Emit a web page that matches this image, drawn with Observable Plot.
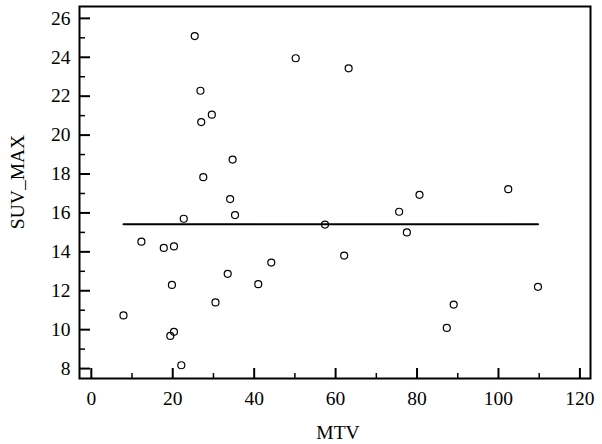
<!DOCTYPE html>
<html>
<head>
<meta charset="utf-8">
<script src="https://cdn.jsdelivr.net/npm/d3@7"></script>
<script src="https://cdn.jsdelivr.net/npm/@observablehq/plot@0.6"></script>
<style>
  html, body { margin: 0; padding: 0; background: white; }
</style>
</head>
<body>
<div id="chart"></div>
<script>
// Data
const mtv    = [7.9, 12.3, 17.8, 20.3, 19.8, 19.4, 20.3, 22.1, 30.5, 33.5, 41.0, 44.2,
                25.4, 50.2, 26.8, 27.0, 29.6, 34.7, 27.5, 34.1, 35.3, 22.7,
                63.2, 80.6, 75.6, 102.4, 57.4,
                77.5, 62.1, 109.7, 89.0, 87.3];
const suvMax = [10.73, 14.52, 14.2, 14.28, 12.3, 9.68, 9.89, 8.17, 11.4, 12.87, 12.34, 13.45,
                25.09, 23.95, 22.28, 20.67, 21.05, 18.74, 17.84, 16.71, 15.89, 15.7,
                23.43, 16.93, 16.06, 17.22, 15.4,
                15.0, 13.81, 12.2, 11.29, 10.09];
const xMajor = [0, 20, 40, 60, 80, 100, 120];
const xMinor = [10, 30, 50, 70, 90, 110];
const yMajor = [8, 10, 12, 14, 16, 18, 20, 22, 24, 26];
const yMinor = [9, 11, 13, 15, 17, 19, 21, 23, 25];
const xLabel = "MTV";
const yLabel = "SUV_MAX";

const points = mtv.map((x, i) => ({x, y: suvMax[i]}));
// fitted (flat) line: mean of SUV_MAX across the range of MTV
const meanY = d3.mean(suvMax);
const fit = [{x: d3.min(mtv), y: meanY}, {x: d3.max(mtv), y: meanY}];

const FONT = "'Liberation Serif', 'Times New Roman', serif";
const W = 602, H = 444, mL = 79, mR = 12, mT = 6, mB = 66;
const xDom = [-2.9, 122.6], yDom = [7.49, 26.61];
// convert inward tick lengths (pixels) into data units
const xPer = (W - mL - mR) / (xDom[1] - xDom[0]);
const yPer = (H - mT - mB) / (yDom[1] - yDom[0]);
const tickX = (len) => ({y1: yDom[0], y2: yDom[0] + len / yPer});
const tickY = (len) => ({x1: xDom[0], x2: xDom[0] + len / xPer});

const chart = Plot.plot({
  width: W,
  height: H,
  marginLeft: mL,
  marginRight: mR,
  marginTop: mT,
  marginBottom: mB,
  style: {fontFamily: FONT, fontSize: "19.5px", background: "white", color: "black"},
  x: {domain: xDom},
  y: {domain: yDom},
  marks: [
    Plot.axisX({ticks: xMajor, tickSize: 0, tickPadding: 13, label: null, fontSize: 19.5, fontFamily: FONT}),
    Plot.axisY({ticks: yMajor, tickSize: 0, tickPadding: 9, label: null, fontSize: 19.5, fontFamily: FONT}),
    Plot.ruleX(xMajor, {x: d => d, ...tickX(10), stroke: "black", strokeWidth: 2}),
    Plot.ruleX(xMinor, {x: d => d, ...tickX(5), stroke: "black", strokeWidth: 1.5}),
    Plot.ruleY(yMajor, {y: d => d, ...tickY(11), stroke: "black", strokeWidth: 2}),
    Plot.ruleY(yMinor, {y: d => d, ...tickY(6), stroke: "black", strokeWidth: 1.5}),
    Plot.line(fit, {x: "x", y: "y", stroke: "black", strokeWidth: 2}),
    Plot.dot(points, {x: "x", y: "y", r: 3.5, stroke: "black", fill: "none", strokeWidth: 1.2}),
    Plot.frame({stroke: "black", strokeWidth: 2}),
    Plot.text([xLabel], {frameAnchor: "bottom", lineAnchor: "bottom", textAnchor: "middle", dy: 60, dx: 3, fontSize: 19.5, fontFamily: FONT, fill: "black"}),
    Plot.text([yLabel], {frameAnchor: "left", lineAnchor: "bottom", textAnchor: "middle", rotate: -90, dx: -56, dy: -10.5, fontSize: 19.5, fontFamily: FONT, fill: "black"})
  ]
});
document.getElementById("chart").appendChild(chart);
</script>
</body>
</html>
